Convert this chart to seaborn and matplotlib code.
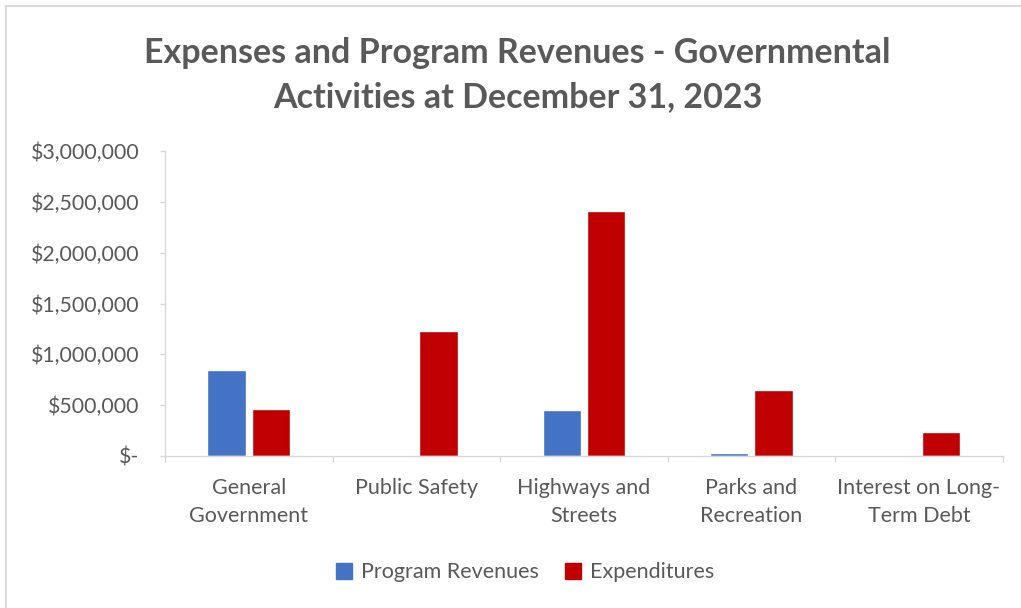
import matplotlib
matplotlib.use("Agg")
import matplotlib.pyplot as plt
import seaborn as sns
import pandas as pd
from matplotlib.ticker import FuncFormatter, FixedLocator
from matplotlib.lines import Line2D

categories = ["General\nGovernment", "Public Safety", "Highways and\nStreets",
              "Parks and\nRecreation", "Interest on Long-\nTerm Debt"]
program_revenues = [845000, 0, 450000, 32000, 0]
expenditures = [460000, 1230000, 2410000, 650000, 235000]
series_names = ["Program Revenues", "Expenditures"]
colors = ["#4472C4", "#C00000"]
y_ticks = [0, 500000, 1000000, 1500000, 2000000, 2500000, 3000000]

df = pd.DataFrame({
    "Category": categories * 2,
    "Value": program_revenues + expenditures,
    "Series": [series_names[0]] * len(categories) + [series_names[1]] * len(categories),
})

sns.set_theme(style="white")
plt.rcParams["font.family"] = ["Lato", "DejaVu Sans"]

fig = plt.figure(figsize=(10.21, 6.08), dpi=100)
ax = fig.add_axes([0.1616, 0.25, 0.8204, 0.5016])

sns.barplot(data=df, x="Category", y="Value", hue="Series", palette=colors,
            width=0.53, gap=0.14, ax=ax, legend=False, saturation=1)

text_color = "#595959"
axis_color = "#D9D9D9"

ax.set_ylim(0, 3000000)
ax.set_xlim(-0.5, len(categories) - 0.5)
ax.set_yticks(y_ticks)

def fmt(v, pos):
    if v == 0:
        return "$-"
    return "${:,.0f}".format(v)

ax.yaxis.set_major_formatter(FuncFormatter(fmt))
ax.tick_params(axis="y", which="major", length=3.6, width=1, color=axis_color,
               labelsize=15.3, labelcolor=text_color, pad=15, left=True)
ax.tick_params(axis="x", which="major", length=0, labelsize=15.5,
               labelcolor=text_color, pad=16)
ax.xaxis.set_minor_locator(FixedLocator([i - 0.5 for i in range(len(categories) + 1)]))
ax.tick_params(axis="x", which="minor", length=4.5, width=1, color=axis_color, bottom=True)
for lbl in ax.get_xticklabels():
    lbl.set_linespacing(1.5)

ax.set_xlabel("")
ax.set_ylabel("")
for s in ["top", "right"]:
    ax.spines[s].set_visible(False)
for s in ["left", "bottom"]:
    ax.spines[s].set_color(axis_color)
    ax.spines[s].set_linewidth(1)
ax.grid(False)

fig.text(0.507, 0.877, "Expenses and Program Revenues - Governmental\nActivities at December 31, 2023",
         ha="center", va="center", fontsize=24.5, fontweight="bold", color=text_color,
         linespacing=1.45)

handles = [Line2D([0], [0], marker="s", linestyle="none", markersize=11,
                  markerfacecolor=c, markeredgecolor=c) for c in colors]
fig.legend(handles, series_names, loc="center", bbox_to_anchor=(0.513, 0.059),
           ncol=2, frameon=False, fontsize=15.5, labelcolor=text_color,
           handletextpad=0.3, columnspacing=1.1, handlelength=1.0)

fig.add_artist(Line2D([0.0059, 0.0059], [0, 0.9896], transform=fig.transFigure,
                      color="#D9D9D9", linewidth=1.5))
fig.add_artist(Line2D([0.0059, 1.0], [0.9896, 0.9896], transform=fig.transFigure,
                      color="#D9D9D9", linewidth=1.5))

fig.savefig("out.png", dpi=100, facecolor="white")
